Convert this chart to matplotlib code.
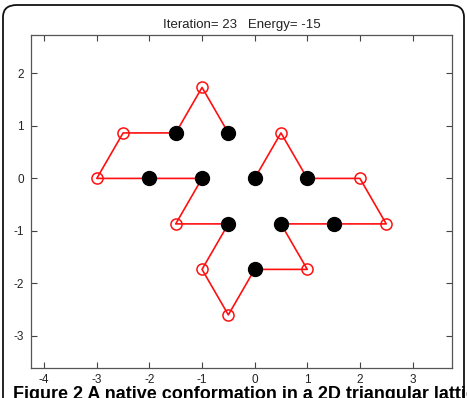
"""Triangular-lattice HP protein fold, MATLAB-style snapshot."""

import matplotlib
matplotlib.use("Agg")
import matplotlib.pyplot as plt
import numpy as np
from matplotlib.patches import FancyBboxPatch

plt.rcParams["font.family"] = ["Liberation Sans", "DejaVu Sans"]
plt.rcParams["axes.unicode_minus"] = False

# chain residues in order (lattice units: x step 0.5, row height sqrt(3)/2)
SEQUENCE = "HPHPPHHPHPPHPHHPPHPH"
X_COORDS = [-0.5, -1.0, -1.5, -2.5, -3.0, -2.0, -1.0, -1.5, -0.5, -1.0,
            -0.5, 0.0, 1.0, 0.5, 1.5, 2.5, 2.0, 1.0, 0.5, 0.0]
ROWS = [1, 2, 1, 1, 0, 0, 0, -1, -1, -2, -3, -2, -2, -1, -1, -1, 0, 0, 1, 0]

ITERATION = 23
ENERGY = -15
X_TICKS = [-4, -3, -2, -1, 0, 1, 2, 3]
Y_TICKS = [-3, -2, -1, 0, 1, 2]
CAPTION = "Figure 2 A native conformation in a 2D triangular lattice"


def main():
    x = np.array(X_COORDS)
    y = np.array(ROWS) * np.sqrt(3) / 2
    is_h = np.array([c == "H" for c in SEQUENCE])

    W, H = 467, 398
    fig = plt.figure(figsize=(W / 100, H / 100), dpi=100)

    # rounded frame around the figure
    frame = FancyBboxPatch(
        (3 / W, -0.2), (W - 6) / W, (H - 5) / H + 0.2,
        boxstyle="round,pad=0,rounding_size=0.03",
        transform=fig.transFigure, fill=False, ec="#111111", lw=1.3,
    )
    fig.patches.append(frame)

    ax = fig.add_axes([31 / W, (H - 367.5) / H, 421 / W, 333 / H])
    ax.plot(x, y, color="#ff1010", lw=1.2, zorder=2)
    ax.plot(x[~is_h], y[~is_h], "o", ms=8, mfc="none", mec="#ff1010",
            mew=1.1, ls="none", zorder=3)
    ax.plot(x[is_h], y[is_h], "o", ms=10, color="black", ls="none", zorder=4)

    ax.set_xlim(-4.25, 3.75)
    ax.set_ylim(-3.6, 2.74)
    ax.set_xticks(X_TICKS)
    ax.set_yticks(Y_TICKS)
    ax.tick_params(direction="in", length=4, width=0.8, color="#444444",
                   labelcolor="#222222", labelsize=8.5, top=True, right=True,
                   pad=5)
    for s in ax.spines.values():
        s.set_color("#555555")
        s.set_linewidth(0.9)

    ax.set_title(f"Iteration= {ITERATION}   Energy= {ENERGY}", fontsize=9.5,
                 color="#222222", pad=5)

    fig.text(13 / W, 1 - 386 / H, CAPTION, ha="left", va="top",
             fontsize=13, fontweight="bold", color="black")

    fig.savefig("out.png", dpi=100)
    plt.close(fig)


if __name__ == "__main__":
    main()
